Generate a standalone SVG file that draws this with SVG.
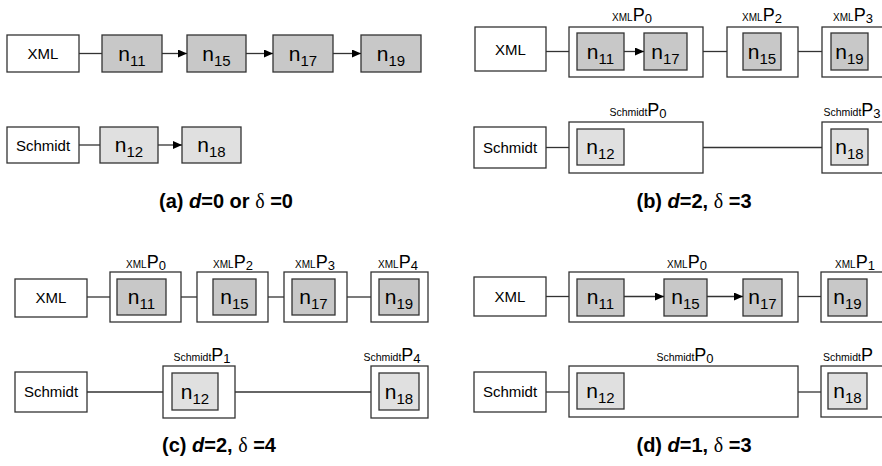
<svg xmlns="http://www.w3.org/2000/svg" width="882" height="466" viewBox="0 0 882 466">
<style>
.box{fill:#fff;stroke:#333;stroke-width:1.3}
.grp{fill:#fff;stroke:#333;stroke-width:1.3}
.nx{fill:#c8c8c8;stroke:#333;stroke-width:1.3}
.ns{fill:#e0e0e0;stroke:#333;stroke-width:1.3}
.ln{stroke:#333;stroke-width:1.3;fill:none}
.ar{stroke:#333;stroke-width:1.3;fill:none;marker-end:url(#ah)}
text{font-family:"Liberation Sans",Arial,sans-serif;fill:#000}
.lbl{font-size:15px;text-anchor:middle}
.n{font-size:21px;text-anchor:middle}
.sub{font-size:15px}
.pl{font-size:18px;text-anchor:middle}
.sm{font-size:10px}
.ss{font-size:10.5px}
.ps{font-size:13px}
.cap{font-size:20px;font-weight:bold;text-anchor:middle}
.dl{font-family:"Liberation Serif",serif;font-weight:normal}
</style>
<defs>
<marker id="ah" markerWidth="9" markerHeight="8" refX="9" refY="4" orient="auto" markerUnits="userSpaceOnUse">
<path d="M0,0 L9,4 L0,8 z" fill="#000"/>
</marker>
</defs>

<!-- ===== (a) ===== -->
<g id="a-xml"><rect class="box" x="7" y="35" width="72" height="37"/><text class="lbl" x="43" y="59">XML</text></g>
<g id="a-n11"><rect class="nx" x="102" y="35" width="60" height="37"/><text class="n" x="132" y="60.5">n<tspan class="sub" dy="5">11</tspan></text></g>
<g id="a-n15"><rect class="nx" x="187" y="35" width="59" height="37"/><text class="n" x="216.5" y="60.5">n<tspan class="sub" dy="5">15</tspan></text></g>
<g id="a-n17"><rect class="nx" x="273" y="35" width="60" height="37"/><text class="n" x="303" y="60.5">n<tspan class="sub" dy="5">17</tspan></text></g>
<g id="a-n19"><rect class="nx" x="361" y="35" width="60" height="37"/><text class="n" x="391" y="60.5">n<tspan class="sub" dy="5">19</tspan></text></g>
<g id="a-schmidt"><rect class="box" x="7" y="127" width="72" height="36"/><text class="lbl" x="43" y="150.5">Schmidt</text></g>
<g id="a-n12"><rect class="ns" x="100" y="127" width="58" height="36"/><text class="n" x="129" y="152">n<tspan class="sub" dy="5">12</tspan></text></g>
<g id="a-n18"><rect class="ns" x="182" y="127" width="59" height="36"/><text class="n" x="211.5" y="152">n<tspan class="sub" dy="5">18</tspan></text></g>
<text class="cap" x="226" y="208">(a) <tspan font-style="italic">d</tspan>=0 or <tspan class="dl">δ</tspan> =0</text>

<!-- ===== (b) ===== -->
<g id="b-xml"><rect class="box" x="475" y="27" width="71" height="44"/><text class="lbl" x="510.5" y="54.5">XML</text></g>
<g id="b-xmlP0">
<rect class="grp" x="569" y="27" width="134" height="50"/>
<text class="pl" x="632" y="21"><tspan class="sm">XML</tspan>P<tspan class="ps" dy="2">0</tspan></text>
<rect class="nx" x="577" y="33" width="47" height="37"/><text class="n" x="600.5" y="58.5">n<tspan class="sub" dy="5">11</tspan></text>
<rect class="nx" x="644" y="33" width="43" height="37"/><text class="n" x="665.5" y="58.5">n<tspan class="sub" dy="5">17</tspan></text>
</g>
<g id="b-xmlP2">
<rect class="grp" x="727" y="27" width="71" height="50"/>
<text class="pl" x="762" y="21"><tspan class="sm">XML</tspan>P<tspan class="ps" dy="2">2</tspan></text>
<rect class="nx" x="743" y="33" width="38" height="37"/><text class="n" x="762" y="58.5">n<tspan class="sub" dy="5">15</tspan></text>
</g>
<g id="b-xmlP3">
<rect class="grp" x="822" y="27" width="71" height="50"/>
<text class="pl" x="853" y="21"><tspan class="sm">XML</tspan>P<tspan class="ps" dy="2">3</tspan></text>
<rect class="nx" x="831" y="33" width="37" height="37"/><text class="n" x="849.5" y="58.5">n<tspan class="sub" dy="5">19</tspan></text>
</g>
<g id="b-schmidt"><rect class="box" x="474" y="127" width="72" height="41"/><text class="lbl" x="510" y="152.5">Schmidt</text></g>
<g id="b-schmidtP0">
<rect class="grp" x="569" y="122" width="134" height="51"/>
<text class="pl" x="638" y="116"><tspan class="ss">Schmidt</tspan>P<tspan class="ps" dy="2">0</tspan></text>
<rect class="ns" x="577" y="129" width="47" height="36"/><text class="n" x="600.5" y="154">n<tspan class="sub" dy="5">12</tspan></text>
</g>
<g id="b-schmidtP3">
<rect class="grp" x="822" y="122" width="71" height="51"/>
<text class="pl" x="852" y="116"><tspan class="ss">Schmidt</tspan>P<tspan class="ps" dy="2">3</tspan></text>
<rect class="ns" x="831" y="129" width="37" height="36"/><text class="n" x="849.5" y="154">n<tspan class="sub" dy="5">18</tspan></text>
</g>
<text class="cap" x="694" y="208">(b) <tspan font-style="italic">d</tspan>=2, <tspan class="dl">δ</tspan> =3</text>

<!-- ===== (c) ===== -->
<g id="c-xml"><rect class="box" x="15" y="279" width="72" height="38"/><text class="lbl" x="51" y="303">XML</text></g>
<g id="c-xmlP0">
<rect class="grp" x="110" y="272" width="71" height="50"/>
<text class="pl" x="146" y="268"><tspan class="sm">XML</tspan>P<tspan class="ps" dy="2">0</tspan></text>
<rect class="nx" x="117" y="279" width="49" height="36"/><text class="n" x="141.5" y="304">n<tspan class="sub" dy="5">11</tspan></text>
</g>
<g id="c-xmlP2">
<rect class="grp" x="197" y="272" width="71" height="50"/>
<text class="pl" x="233" y="268"><tspan class="sm">XML</tspan>P<tspan class="ps" dy="2">2</tspan></text>
<rect class="nx" x="213" y="279" width="43" height="36"/><text class="n" x="234.5" y="304">n<tspan class="sub" dy="5">15</tspan></text>
</g>
<g id="c-xmlP3">
<rect class="grp" x="284" y="272" width="63" height="50"/>
<text class="pl" x="315" y="268"><tspan class="sm">XML</tspan>P<tspan class="ps" dy="2">3</tspan></text>
<rect class="nx" x="292" y="279" width="43" height="36"/><text class="n" x="313.5" y="304">n<tspan class="sub" dy="5">17</tspan></text>
</g>
<g id="c-xmlP4">
<rect class="grp" x="371" y="272" width="57" height="50"/>
<text class="pl" x="398" y="268"><tspan class="sm">XML</tspan>P<tspan class="ps" dy="2">4</tspan></text>
<rect class="nx" x="379" y="279" width="40" height="36"/><text class="n" x="399" y="304">n<tspan class="sub" dy="5">19</tspan></text>
</g>
<g id="c-schmidt"><rect class="box" x="15" y="372" width="72" height="40"/><text class="lbl" x="51" y="397">Schmidt</text></g>
<g id="c-schmidtP1">
<rect class="grp" x="163" y="366" width="72" height="52"/>
<text class="pl" x="202" y="361"><tspan class="ss">Schmidt</tspan>P<tspan class="ps" dy="2">1</tspan></text>
<rect class="ns" x="172" y="373" width="46" height="37"/><text class="n" x="195" y="398.5">n<tspan class="sub" dy="5">12</tspan></text>
</g>
<g id="c-schmidtP4">
<rect class="grp" x="371" y="366" width="57" height="52"/>
<text class="pl" x="392" y="361"><tspan class="ss">Schmidt</tspan>P<tspan class="ps" dy="2">4</tspan></text>
<rect class="ns" x="379" y="373" width="40" height="37"/><text class="n" x="399" y="398.5">n<tspan class="sub" dy="5">18</tspan></text>
</g>
<text class="cap" x="219" y="452">(c) <tspan font-style="italic">d</tspan>=2, <tspan class="dl">δ</tspan> =4</text>

<!-- ===== (d) ===== -->
<g id="d-xml"><rect class="box" x="474" y="277" width="72" height="39"/><text class="lbl" x="510" y="302">XML</text></g>
<g id="d-xmlP0">
<rect class="grp" x="569" y="272" width="229" height="50"/>
<text class="pl" x="687" y="268"><tspan class="sm">XML</tspan>P<tspan class="ps" dy="2">0</tspan></text>
<rect class="nx" x="577" y="279" width="47" height="37"/><text class="n" x="600.5" y="304">n<tspan class="sub" dy="5">11</tspan></text>
<rect class="nx" x="664" y="279" width="43" height="37"/><text class="n" x="685.5" y="304">n<tspan class="sub" dy="5">15</tspan></text>
<rect class="nx" x="743" y="279" width="39" height="37"/><text class="n" x="762.5" y="304">n<tspan class="sub" dy="5">17</tspan></text>
</g>
<g id="d-xmlP1">
<rect class="grp" x="821" y="272" width="70" height="50"/>
<text class="pl" x="855" y="268"><tspan class="sm">XML</tspan>P<tspan class="ps" dy="2">1</tspan></text>
<rect class="nx" x="828" y="279" width="39" height="37"/><text class="n" x="847.5" y="304">n<tspan class="sub" dy="5">19</tspan></text>
</g>
<g id="d-schmidt"><rect class="box" x="474" y="372" width="72" height="40"/><text class="lbl" x="510" y="397">Schmidt</text></g>
<g id="d-schmidtP0">
<rect class="grp" x="569" y="366" width="229" height="51"/>
<text class="pl" x="685" y="361"><tspan class="ss">Schmidt</tspan>P<tspan class="ps" dy="2">0</tspan></text>
<rect class="ns" x="577" y="373" width="47" height="36"/><text class="n" x="600.5" y="398">n<tspan class="sub" dy="5">12</tspan></text>
</g>
<g id="d-schmidtP">
<rect class="grp" x="821" y="366" width="70" height="51"/>
<text class="pl" x="823" y="361" style="text-anchor:start"><tspan class="ss">Schmidt</tspan>P</text>
<rect class="ns" x="828" y="373" width="39" height="36"/><text class="n" x="847.5" y="398">n<tspan class="sub" dy="5">18</tspan></text>
</g>
<text class="cap" x="694" y="452">(d) <tspan font-style="italic">d</tspan>=1, <tspan class="dl">δ</tspan> =3</text>

<g id="connectors">
<!-- (a) -->
<line class="ln" x1="79" y1="53.5" x2="102" y2="53.5"/>
<line class="ar" x1="162" y1="53.5" x2="187" y2="53.5"/>
<line class="ar" x1="246" y1="53.5" x2="273" y2="53.5"/>
<line class="ar" x1="333" y1="53.5" x2="361" y2="53.5"/>
<line class="ln" x1="79" y1="145" x2="100" y2="145"/>
<line class="ar" x1="158" y1="145" x2="182" y2="145"/>
<!-- (b) -->
<line class="ln" x1="546" y1="51.5" x2="569" y2="51.5"/>
<line class="ar" x1="624" y1="51.5" x2="644" y2="51.5"/>
<line class="ln" x1="703" y1="51.5" x2="727" y2="51.5"/>
<line class="ln" x1="798" y1="51.5" x2="822" y2="51.5"/>
<line class="ln" x1="546" y1="147.5" x2="569" y2="147.5"/>
<line class="ln" x1="703" y1="147.5" x2="822" y2="147.5"/>
<!-- (c) -->
<line class="ln" x1="87" y1="297" x2="110" y2="297"/>
<line class="ln" x1="181" y1="297" x2="197" y2="297"/>
<line class="ln" x1="268" y1="297" x2="284" y2="297"/>
<line class="ln" x1="347" y1="297" x2="371" y2="297"/>
<line class="ln" x1="87" y1="392" x2="163" y2="392"/>
<line class="ln" x1="235" y1="392" x2="371" y2="392"/>
<!-- (d) -->
<line class="ln" x1="546" y1="296.5" x2="569" y2="296.5"/>
<line class="ar" x1="624" y1="296.5" x2="664" y2="296.5"/>
<line class="ar" x1="707" y1="296.5" x2="743" y2="296.5"/>
<line class="ln" x1="798" y1="296.5" x2="821" y2="296.5"/>
<line class="ln" x1="546" y1="392" x2="569" y2="392"/>
<line class="ln" x1="798" y1="392" x2="821" y2="392"/>
</g>
</svg>
